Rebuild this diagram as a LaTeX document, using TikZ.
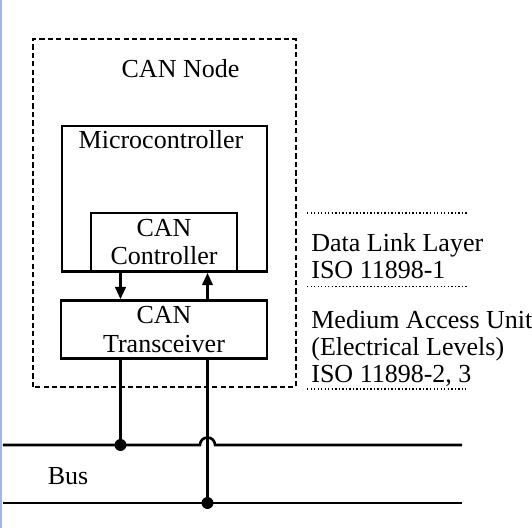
\documentclass[tikz,border=0pt]{standalone}
\usepackage{fontspec}
\setmainfont{Liberation Serif}
\usepackage{tikz}
\usetikzlibrary{calc,arrows.meta}
\usepackage{xcolor}
\definecolor{edgeblue}{RGB}{165,180,225}

\begin{document}
\begin{tikzpicture}[
    every node/.style={font=\fontsize{14.8pt}{16.2pt}\selectfont, inner sep=0pt},
    box/.style={draw, line width=1.6pt},
    wire/.style={line width=1.5pt},
    sepline/.style={line width=1.1pt, dash pattern=on 0.8pt off 1.2pt},
    tip/.style={-{Triangle[length=7pt,width=6pt]}}
]
    \useasboundingbox (0,0) rectangle (10.64,10.56);
    \draw[edgeblue, line width=1.3pt] (0.02,0) -- (0.02,10.56);

    % CAN node frame
    \draw[line width=1.5pt, dash pattern=on 3pt off 1.8pt] (0.66,2.82) rectangle (5.92,9.78);
    \node[anchor=base] (title) at (3.61,9.0) {CAN Node};

    % Microcontroller with CAN controller inside
    \node[box, minimum width=4.10cm, minimum height=2.91cm] (mcu) at (3.29,6.585) {};
    \node[anchor=base] (mcutext) at (3.22,7.58) {Microcontroller};
    \node[box, minimum width=2.92cm, minimum height=1.17cm, align=center] (ctrl) at (3.28,5.715) {CAN\\Controller};

    % Transceiver
    \node[box, minimum width=4.12cm, minimum height=1.16cm, align=center] (trx) at (3.28,3.968) {CAN\\Transceiver};

    % Tx / Rx arrows
    \coordinate (xa) at (2.41,0);
    \coordinate (xb) at (4.15,0);
    \draw[wire,tip] (mcu.south -| xa) -- (trx.north -| xa);
    \draw[wire,tip] (trx.north -| xb) -- (mcu.south -| xb);

    % Bus lines
    \coordinate (hiW) at (0.06,1.66);
    \coordinate (hiE) at (9.24,1.66);
    \coordinate (loW) at (0.06,0.50);
    \coordinate (loE) at (9.24,0.50);
    \draw[wire] (hiW) -- ($(hiW -| xb)+(-0.15,0)$) arc[start angle=180, end angle=0, radius=0.15] -- (hiE);
    \draw[wire] (loW) -- (loE);
    \draw[wire] (trx.south -| xa) -- (hiW -| xa);
    \draw[wire] (trx.south -| xb) -- (loW -| xb);
    \fill (hiW -| xa) circle (0.12);
    \fill (loW -| xb) circle (0.12);
    \node[anchor=base] (bus) at (1.36,0.86) {Bus};

    % Layer labels
    \draw[sepline] (6.14,6.30) -- (9.34,6.30);
    \node[anchor=base west] (dll) at (6.22,5.52) {Data Link Layer};
    \node[anchor=base west] (dlliso) at (6.22,4.98) {ISO 11898-1};
    \draw[sepline] (6.14,4.83) -- (9.34,4.83);
    \node[anchor=base west] (mau) at (6.22,3.98) {Medium Access Unit};
    \node[anchor=base west] (levels) at (6.22,3.44) {(Electrical Levels)};
    \node[anchor=base west] (mauiso) at (6.22,2.90) {ISO 11898-2, 3};
    \draw[sepline] (6.14,2.78) -- (9.31,2.78);
\end{tikzpicture}
\end{document}
